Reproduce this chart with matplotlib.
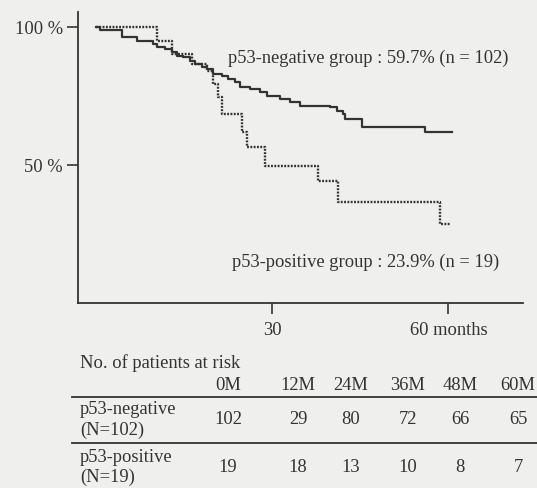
import matplotlib.pyplot as plt

# survival curves (months, % surviving)
t_neg = [0, 0.7, 4.4, 7.0, 9.7, 10.4, 11.8, 12.9, 13.8, 14.8, 16.0, 16.9, 18.1, 18.9, 19.9, 21.5,
         22.5, 23.7, 24.5, 26.2, 27.9, 29.1, 31.3, 33.0, 34.8, 39.9, 41.1, 42.1, 42.4, 45.3, 56.0, 60.6]
s_neg = [100, 99.0, 96.4, 94.9, 93.8, 92.8, 92.0, 90.9, 89.5, 89.1, 87.7, 86.6, 85.5, 84.8, 83.0, 82.2,
         81.2, 80.1, 78.3, 77.5, 76.4, 75.0, 73.9, 72.8, 71.4, 71.0, 69.6, 68.5, 66.7, 63.8, 62.0, 62.0]

t_pos = [0, 10.4, 12.9, 16.4, 18.9, 19.9, 20.8, 21.5, 24.9, 25.7, 28.8, 37.8, 41.2, 58.6, 60.3]
s_pos = [100, 94.9, 90.2, 86.6, 84.1, 79.3, 74.6, 68.5, 62.0, 56.5, 49.6, 44.2, 36.6, 28.6, 28.6]

label_neg = "p53-negative group : 59.7% (n = 102)"
label_pos = "p53-positive group : 23.9% (n = 19)"

# patients at risk table
risk_months = [0, 12, 24, 36, 48, 60]
risk_neg = [102, 29, 80, 72, 66, 65]
risk_pos = [19, 18, 13, 10, 8, 7]
row_names = [("p53-negative", "(N=102)"), ("p53-positive", "(N=19)")]

bg = "#efefed"
ink = "#333333"
plt.rcParams["font.family"] = ["Liberation Serif", "DejaVu Serif"]
fs = 13.3

fig = plt.figure(figsize=(5.37, 4.89), dpi=100, facecolor=bg)

#grafico principale
ax = fig.add_axes([78/537, 1-304/489, 445/537, 291/489])
ax.set_facecolor(bg)
ax.step(t_neg, s_neg, where="post", color=ink, lw=1.6)
ax.step(t_pos, s_pos, where="post", color=ink, lw=1.7, linestyle=(0, (0.8, 0.6)))
ax.set_xlim(-3.07, 72.7)
ax.set_ylim(0, 105.4)
for side in ["top", "right"]:
    ax.spines[side].set_visible(False)
for side in ["left", "bottom"]:
    ax.spines[side].set_color(ink)
    ax.spines[side].set_linewidth(1.3)
ax.set_yticks([100, 50])
ax.set_yticklabels(["100 %", "50 %"])
ax.set_xticks([30, 60])
ax.set_xticklabels(["30", "60 months"])
ax.tick_params(axis="both", direction="out", length=8, width=1.2, color=ink,
               labelcolor=ink, labelsize=fs)
ax.tick_params(axis="y", pad=3)
ax.tick_params(axis="x", pad=5)

ax.text(22.5, 89.1, label_neg, fontsize=fs, color=ink, ha="left", va="center")
ax.text(23.2, 15.2, label_pos, fontsize=fs, color=ink, ha="left", va="center")

#tabella dei pazienti a rischio (coordinate in pixel)
tab = fig.add_axes([0, 0, 1, 1])
tab.set_xlim(0, 537)
tab.set_ylim(489, 0)
tab.axis("off")
col_x = [228, 298, 351, 408, 460, 518]

tab.text(80, 363, "No. of patients at risk", fontsize=fs, color=ink, ha="left", va="center")
for x, m in zip(col_x, risk_months):
    tab.text(x, 385, f"{m}M", fontsize=fs, color=ink, ha="center", va="center")
tab.plot([72, 537], [398, 398], color=ink, lw=1.3)
tab.plot([72, 537], [444, 444], color=ink, lw=1.3)

row_y = [420, 467]
for (name, n), yy, vals in zip(row_names, row_y, [risk_neg, risk_pos]):
    tab.text(80, yy - 10, name, fontsize=fs, color=ink, ha="left", va="center")
    tab.text(80, yy + 10, n, fontsize=fs, color=ink, ha="left", va="center")
    for x, v in zip(col_x, vals):
        tab.text(x, yy, str(v), fontsize=fs, color=ink, ha="center", va="center")

fig.savefig("out.png", dpi=100, facecolor=bg)
